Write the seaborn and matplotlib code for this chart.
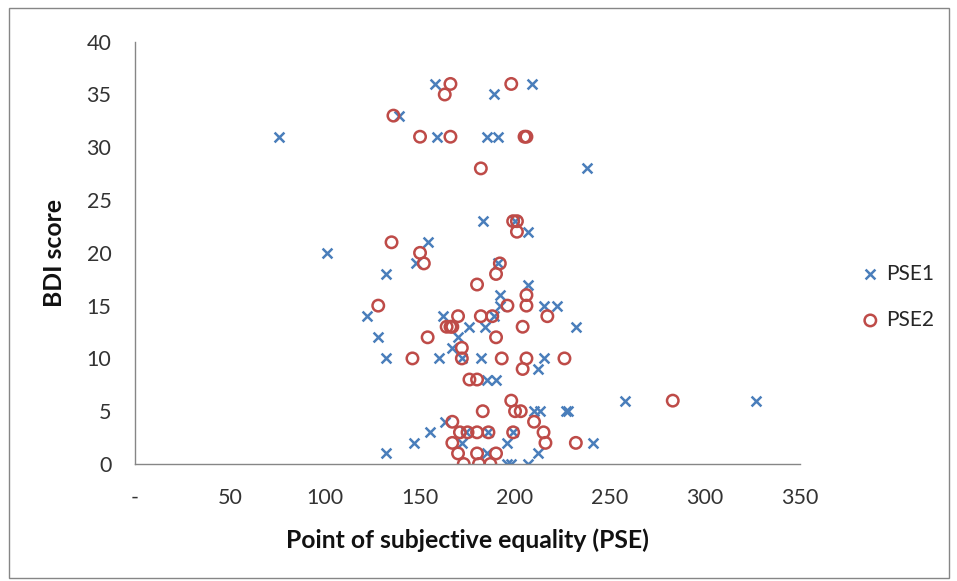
import pandas as pd
import seaborn as sns
import matplotlib.pyplot as plt
from matplotlib.patches import Rectangle

# datos
pse1_x = [76, 101, 122, 128, 132, 132, 132, 139, 147, 148, 154, 155, 158, 159,
          160, 162, 163, 167, 170, 172, 172, 174, 176, 182, 183, 185, 190, 184,
          185, 185, 186, 189, 189, 191, 191, 192, 192, 196, 196, 198, 199, 200,
          207, 207, 207, 209, 210, 212, 212, 213, 215, 215, 222, 227, 228, 232,
          238, 241, 258, 327]
pse1_bdi = [31, 20, 14, 12, 18, 10, 1, 33, 2, 19, 21, 3, 36, 31,
            10, 14, 4, 11, 12, 10, 2, 3, 13, 10, 23, 8, 8, 13,
            31, 1, 3, 14, 35, 31, 19, 16, 15, 2, 0, 0, 3, 23,
            0, 17, 22, 36, 5, 9, 1, 5, 15, 10, 15, 5, 5, 13,
            28, 2, 6, 6]

pse2_x = [128, 135, 136, 146, 150, 150, 152, 154, 163, 164, 166, 167, 166, 166,
          167, 167, 170, 170, 171, 172, 172, 173, 175, 176, 180, 180, 180, 180,
          181, 182, 182, 183, 186, 187, 188, 190, 190, 190, 192, 193, 196, 198,
          198, 199, 199, 200, 201, 201, 203, 204, 204, 205, 206, 206, 206, 206,
          210, 215, 216, 217, 226, 232, 283]
pse2_bdi = [15, 21, 33, 10, 31, 20, 19, 12, 35, 13, 13, 13, 36, 31,
            4, 2, 14, 1, 3, 11, 10, 0, 3, 8, 8, 17, 1, 3,
            0, 14, 28, 5, 3, 0, 14, 12, 18, 1, 19, 10, 15, 36,
            6, 23, 3, 5, 23, 22, 5, 9, 13, 31, 31, 16, 15, 10,
            4, 3, 2, 14, 10, 2, 6]

x_ticks = [0, 50, 100, 150, 200, 250, 300, 350]
x_tick_labels = ['-', '50', '100', '150', '200', '250', '300', '350']
y_ticks = [0, 5, 10, 15, 20, 25, 30, 35, 40]

azul = '#4A7EBB'
rojo = '#BE4B48'
gris = '#868686'

sns.set_style('white')
plt.rcParams['font.family'] = ['Lato', 'DejaVu Sans']

fig = plt.figure(figsize=(9.57, 5.81), dpi=100)
ax = fig.add_axes([0.1411, 0.2014, 0.6949, 0.7268])

sns.scatterplot(x=pse1_x, y=pse1_bdi, marker='x', s=50, color=azul,
                linewidth=1.8, label='PSE1', ax=ax)
sns.scatterplot(x=pse2_x, y=pse2_bdi, marker='o', s=68, color=rojo,
                facecolor='none', edgecolor=rojo, linewidth=1.8,
                label='PSE2', ax=ax)

ax.set_xlim(0, 350)
ax.set_ylim(0, 40)
ax.set_xticks(x_ticks)
ax.set_xticklabels(x_tick_labels)
ax.set_yticks(y_ticks)
ax.tick_params(axis='both', direction='out', length=6, width=1, color=gris,
               labelsize=15.5, labelcolor='#333333', pad=11)

for lado in ['top', 'right']:
    ax.spines[lado].set_visible(False)
for lado in ['left', 'bottom']:
    ax.spines[lado].set_color(gris)
    ax.spines[lado].set_linewidth(1)

ax.set_xlabel('Point of subjective equality (PSE)', fontsize=17.8,
              fontweight='bold', color='#111111')
ax.set_ylabel('BDI score', fontsize=17.8, fontweight='bold', color='#111111')
ax.xaxis.set_label_coords(0.5, -0.152)
ax.yaxis.set_label_coords(-0.104, 0.5)

ax.legend(loc='center left', bbox_to_anchor=(0.892, 0.489),
          bbox_transform=fig.transFigure, frameon=False, fontsize=15,
          handlelength=0.8, handletextpad=0.35, labelspacing=1.25,
          borderaxespad=0)

# marco exterior del area del grafico
fig.patches.append(Rectangle((0.009, 0.005), 0.983, 0.981,
                             transform=fig.transFigure, fill=False,
                             edgecolor=gris, linewidth=1))

fig.savefig('out.png', dpi=100)
